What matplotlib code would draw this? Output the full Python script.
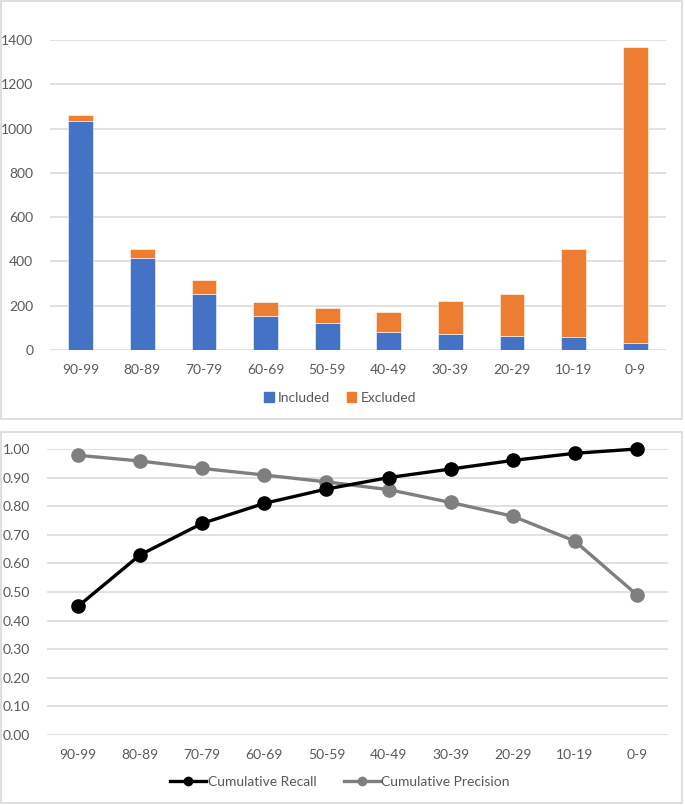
import matplotlib
matplotlib.use("Agg")
import matplotlib.pyplot as plt
from matplotlib.patches import Rectangle, Patch
from matplotlib.lines import Line2D

categories = ["90-99", "80-89", "70-79", "60-69", "50-59", "40-49", "30-39", "20-29", "10-19", "0-9"]
included = [1035, 415, 254, 155, 120, 83, 72, 63, 59, 32]
excluded = [25, 39, 62, 61, 69, 87, 149, 190, 398, 1338]
recall = [0.45, 0.63, 0.74, 0.81, 0.86, 0.90, 0.93, 0.96, 0.985, 1.00]
precision = [0.978, 0.958, 0.932, 0.909, 0.885, 0.858, 0.813, 0.765, 0.678, 0.49]

plt.rcParams['font.family'] = ['Lato', 'DejaVu Sans']
TXT = '#595959'
GRID = '#d9d9d9'
W, H = 685, 805
fig = plt.figure(figsize=(W / 100, H / 100), dpi=100)

def frac(x0, y0, x1, y1):
    return [x0 / W, 1 - y1 / H, (x1 - x0) / W, (y1 - y0) / H]

# panel borders
for (x0, y0, x1, y1) in [(1, 1, 682, 419), (1, 432, 682, 803)]:
    fig.patches.append(Rectangle((x0 / W, 1 - y1 / H), (x1 - x0) / W, (y1 - y0) / H,
                                 transform=fig.transFigure, fill=False,
                                 edgecolor=GRID, linewidth=1.2))

x = list(range(len(categories)))

# ---- top: stacked bars
ax1 = fig.add_axes(frac(50, 40, 666, 350))
ax1.bar(x, included, width=0.4, color='#4472C4', edgecolor='white', linewidth=0.4, zorder=3, label='Included')
ax1.bar(x, excluded, width=0.4, bottom=included, color='#ED7D31', edgecolor='white', linewidth=0.4, zorder=3, label='Excluded')
ax1.set_ylim(0, 1400)
ax1.set_xlim(-0.5, len(categories) - 0.5)
ax1.set_yticks(range(0, 1401, 200))
ax1.set_xticks(x)
ax1.set_xticklabels(categories)

# ---- bottom: lines
ax2 = fig.add_axes(frac(47, 449, 668, 735))
ax2.plot(x, recall, color='black', linewidth=2.4, marker='o', markersize=9.5, zorder=4,
         clip_on=False, label='Cumulative Recall')
ax2.plot(x, precision, color='#7f7f7f', linewidth=2.4, marker='o', markersize=9.5, zorder=3,
         clip_on=False, label='Cumulative Precision')
ax2.set_ylim(0, 1.0)
ax2.set_xlim(-0.5, len(categories) - 0.5)
ax2.set_yticks([i / 10 for i in range(11)])
ax2.set_yticklabels([f"{i / 10:.2f}" for i in range(11)])
ax2.set_xticks(x)
ax2.set_xticklabels(categories)

for ax in (ax1, ax2):
    for s in ax.spines.values():
        s.set_visible(False)
    ax.grid(axis='y', color=GRID, linewidth=1.1, zorder=0)
    ax.set_axisbelow(True)
    ax.tick_params(length=0, labelsize=10, colors=TXT)
    ax.tick_params(axis='y', pad=12)
    ax.tick_params(axis='x', pad=10)

leg1 = ax1.legend(handles=[Patch(color='#4472C4', label='Included'), Patch(color='#ED7D31', label='Excluded')],
                  loc='center', bbox_to_anchor=(340 / W, 1 - 398 / H), bbox_transform=fig.transFigure,
                  ncol=2, frameon=False, fontsize=10, handlelength=0.7, handleheight=0.7,
                  handletextpad=0.3, columnspacing=1.2)
for t in leg1.get_texts():
    t.set_color(TXT)

leg2 = ax2.legend(handles=[Line2D([0], [0], color='black', lw=2.4, marker='o', markersize=6, label='Cumulative Recall'),
                           Line2D([0], [0], color='#7f7f7f', lw=2.4, marker='o', markersize=6, label='Cumulative Precision')],
                  loc='center', bbox_to_anchor=(340 / W, 1 - 782 / H), bbox_transform=fig.transFigure,
                  ncol=2, frameon=False, fontsize=10, handlelength=2.6, handletextpad=0.1,
                  columnspacing=2.0)
for t in leg2.get_texts():
    t.set_color(TXT)

fig.savefig("out.png", dpi=100, facecolor='white')
